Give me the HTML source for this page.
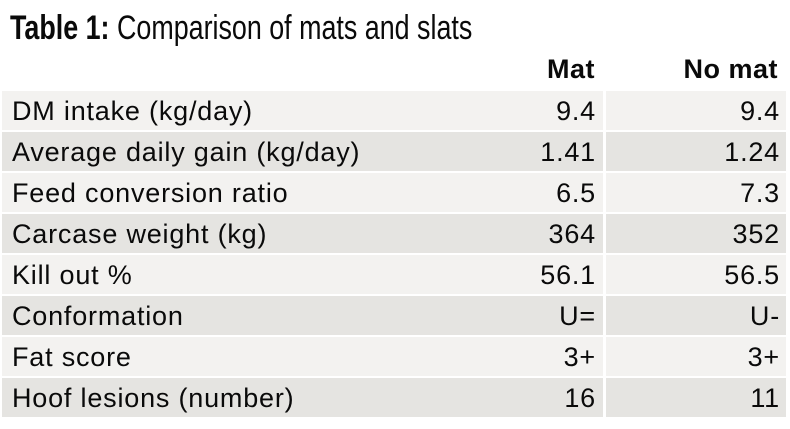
<!DOCTYPE html>
<html><head><style>
body{margin:0;width:790px;height:429px;background:#fff;font-family:"Liberation Sans",sans-serif;color:#0a0a0a;position:relative;overflow:hidden}
.title{position:absolute;left:10px;top:9px;font-size:34px;white-space:nowrap;transform:scaleX(0.79);transform-origin:0 0}
.hdr{position:absolute;top:54px;font-weight:bold;font-size:27px;text-align:right;letter-spacing:0.5px}
.row{position:absolute;left:2px;width:784px;height:39px}
.c{position:absolute;top:0;height:39px;line-height:40px;font-size:27px;white-space:nowrap;letter-spacing:0.8px}
.l{left:0;width:601px;padding-left:10px;box-sizing:border-box}
.m{left:0;width:601px;text-align:right;padding-right:7px;box-sizing:border-box}
.n{left:604px;width:180px;text-align:right;padding-right:6px;box-sizing:border-box}
.a .bg1,.a .bg2{background:#f3f2f0}.b .bg1,.b .bg2{background:#e5e4e1}
.bg1{position:absolute;left:0;top:0;width:601px;height:39px}
.bg2{position:absolute;left:604px;top:0;width:180px;height:39px}
</style></head><body>
<div class="title"><b>Table 1:</b> Comparison of mats and slats</div>
<div class="hdr" style="left:400px;width:195px">Mat</div>
<div class="hdr" style="left:600px;width:178px">No mat</div>
<div class="row a" style="top:91px"><div class="bg1"></div><div class="bg2"></div><div class="c l">DM intake (kg/day)</div><div class="c m">9.4</div><div class="c n">9.4</div></div>
<div class="row b" style="top:132px"><div class="bg1"></div><div class="bg2"></div><div class="c l">Average daily gain (kg/day)</div><div class="c m">1.41</div><div class="c n">1.24</div></div>
<div class="row a" style="top:173px"><div class="bg1"></div><div class="bg2"></div><div class="c l">Feed conversion ratio</div><div class="c m">6.5</div><div class="c n">7.3</div></div>
<div class="row b" style="top:214px"><div class="bg1"></div><div class="bg2"></div><div class="c l">Carcase weight (kg)</div><div class="c m">364</div><div class="c n">352</div></div>
<div class="row a" style="top:255px"><div class="bg1"></div><div class="bg2"></div><div class="c l">Kill out %</div><div class="c m">56.1</div><div class="c n">56.5</div></div>
<div class="row b" style="top:296px"><div class="bg1"></div><div class="bg2"></div><div class="c l">Conformation</div><div class="c m">U=</div><div class="c n">U-</div></div>
<div class="row a" style="top:337px"><div class="bg1"></div><div class="bg2"></div><div class="c l">Fat score</div><div class="c m">3+</div><div class="c n">3+</div></div>
<div class="row b" style="top:378px"><div class="bg1"></div><div class="bg2"></div><div class="c l">Hoof lesions (number)</div><div class="c m">16</div><div class="c n">11</div></div>
</body></html>
